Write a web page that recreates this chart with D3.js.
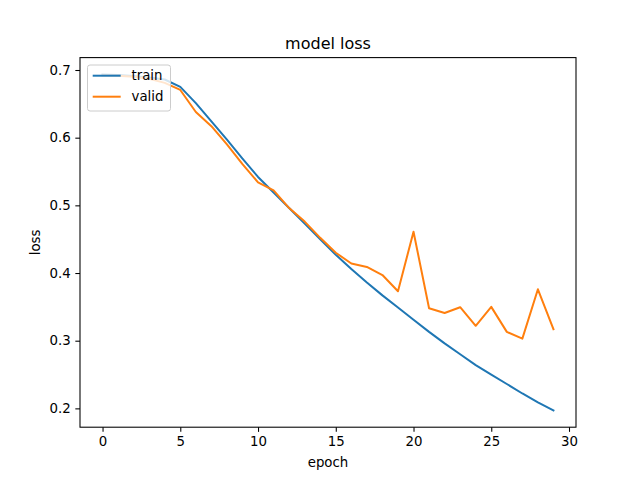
<!DOCTYPE html>
<html>
<head>
<meta charset="utf-8">
<script src="https://cdn.jsdelivr.net/npm/d3@7"></script>
<style>
  html, body { margin: 0; padding: 0; background: #fff; }
  svg { display: block; font-family: "DejaVu Sans", sans-serif; }
</style>
</head>
<body>
<svg id="chart" width="640" height="480"></svg>
<script>
const epochs = d3.range(0, 30);
const trainLoss = [0.6935, 0.6925, 0.691, 0.689, 0.686, 0.675, 0.651, 0.624, 0.597, 0.569,
                   0.542, 0.519, 0.496, 0.473, 0.450, 0.427, 0.406, 0.386, 0.367, 0.349,
                   0.331, 0.313, 0.296, 0.280, 0.264, 0.250, 0.236, 0.222, 0.209, 0.197];
const validLoss = [0.692, 0.6915, 0.690, 0.687, 0.681, 0.6705, 0.638, 0.617, 0.590, 0.561,
                   0.534, 0.522, 0.496, 0.476, 0.452, 0.430, 0.414, 0.409, 0.397, 0.373,
                   0.461, 0.348, 0.341, 0.3495, 0.322, 0.350, 0.313, 0.303, 0.376, 0.317];
const seriesNames = ["train", "valid"];
const seriesColors = ["#1f77b4", "#ff7f0e"];
const xTicks = [0, 5, 10, 15, 20, 25, 30];
const yTicks = [0.2, 0.3, 0.4, 0.5, 0.6, 0.7];
const titleText = "model loss";
const xLabel = "epoch";
const yLabel = "loss";

const mLeft = 80, mRight = 576, mTop = 57.6, mBottom = 427.2;

const svg = d3.select("#chart");

const xMin = d3.min(epochs), xMax = d3.max(epochs);
const xPad = (xMax - xMin) * 0.05;
const allVals = trainLoss.concat(validLoss);
const yMin = d3.min(allVals), yMax = d3.max(allVals);
const yPad = (yMax - yMin) * 0.05;

const x = d3.scaleLinear().domain([xMin - xPad, xMax + xPad]).range([mLeft, mRight]);
const y = d3.scaleLinear().domain([yMin - yPad, yMax + yPad]).range([mBottom, mTop]);

const tickLen = 4.67;
const fontSize = 13.33;

svg.append("clipPath").attr("id", "clip").append("rect")
  .attr("x", mLeft).attr("y", mTop).attr("width", mRight - mLeft).attr("height", mBottom - mTop);

const line = d3.line().x((d, i) => x(epochs[i])).y(d => y(d));
const seriesData = [trainLoss, validLoss];
svg.append("g").attr("clip-path", "url(#clip)")
  .selectAll("path").data(seriesData).join("path")
  .attr("d", d => line(d))
  .attr("fill", "none")
  .attr("stroke", (d, i) => seriesColors[i])
  .attr("stroke-width", 2)
  .attr("stroke-linejoin", "round")
  .attr("stroke-linecap", "square");

const xAxis = d3.axisBottom(x).tickValues(xTicks).tickSize(tickLen).tickPadding(4.67)
  .tickFormat(d3.format("d"));
const gx = svg.append("g").attr("transform", `translate(0,${mBottom})`).call(xAxis);
gx.select(".domain").remove();
gx.selectAll(".tick line").attr("stroke", "#000").attr("stroke-width", 1.07);
gx.selectAll(".tick text").attr("font-size", fontSize).attr("font-family", "DejaVu Sans").attr("fill", "#000");

const yAxis = d3.axisLeft(y).tickValues(yTicks).tickSize(tickLen).tickPadding(4.67)
  .tickFormat(d3.format(".1f"));
const gy = svg.append("g").attr("transform", `translate(${mLeft},0)`).call(yAxis);
gy.select(".domain").remove();
gy.selectAll(".tick line").attr("stroke", "#000").attr("stroke-width", 1.07);
gy.selectAll(".tick text").attr("font-size", fontSize).attr("font-family", "DejaVu Sans").attr("fill", "#000");

svg.append("rect").attr("x", mLeft).attr("y", mTop).attr("width", mRight - mLeft).attr("height", mBottom - mTop)
  .attr("fill", "none").attr("stroke", "#000").attr("stroke-width", 1.07);

svg.append("text").attr("x", (mLeft + mRight) / 2).attr("y", mTop - 8.5)
  .attr("text-anchor", "middle").attr("font-size", 16).text(titleText);
svg.append("text").attr("x", (mLeft + mRight) / 2).attr("y", 467)
  .attr("text-anchor", "middle").attr("font-size", fontSize).text(xLabel);
svg.append("text").attr("transform", `translate(40,${(mTop + mBottom) / 2}) rotate(-90)`)
  .attr("text-anchor", "middle").attr("font-size", fontSize).text(yLabel);

const lg = svg.append("g");
lg.append("rect").attr("x", 87.5).attr("y", 65).attr("width", 83).attr("height", 46)
  .attr("rx", 2.5).attr("fill", "#fff").attr("fill-opacity", 0.8)
  .attr("stroke", "#cccccc").attr("stroke-width", 1);
seriesNames.forEach((name, i) => {
  const cy = 75.7 + i * 21;
  lg.append("line").attr("x1", 92.7).attr("x2", 120.7).attr("y1", cy).attr("y2", cy)
    .attr("stroke", seriesColors[i]).attr("stroke-width", 2);
  lg.append("text").attr("x", 131.5).attr("y", cy + 4.7).attr("font-size", fontSize).text(name);
});
</script>
</body>
</html>
